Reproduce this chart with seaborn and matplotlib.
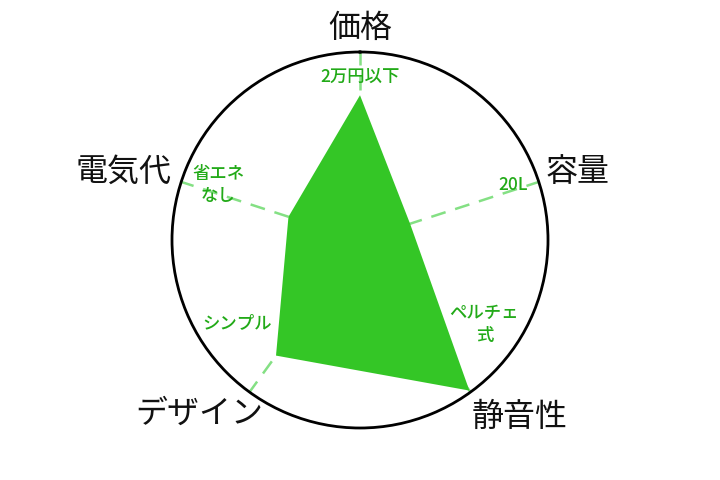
import numpy as np
import pandas as pd
import matplotlib
matplotlib.use('Agg')
import matplotlib.pyplot as plt
import seaborn as sns

# data
categories = ['価格', '容量', '静音性', 'デザイン', '電気代']
values = [77, 28, 99, 76, 40]
notes = ['2万円以下', '20L', 'ペルチェ\n式', 'シンプル', '省エネ\nなし']
max_value = 100

sns.set_theme(style='white')
plt.rcParams['font.family'] = ['Noto Sans CJK JP', 'DejaVu Sans']

df = pd.DataFrame({'cat': categories, 'val': values, 'note': notes})
df['theta'] = np.deg2rad(np.arange(len(df)) * 360 / len(df))

fig = plt.figure(figsize=(7.2, 4.8), dpi=100)
ax = fig.add_axes([172 / 720, 52 / 480, 376 / 720, 376 / 480], polar=True)
ax.set_theta_offset(np.pi / 2)
ax.set_theta_direction(-1)
ax.set_ylim(0, max_value)

# dashed spokes
for t in df['theta']:
    ax.plot([t, t], [0, max_value], color='#84e084', lw=1.8, ls=(0, (6, 4)), zorder=1)

# polygon
th = np.append(df['theta'].values, df['theta'].values[0])
vv = np.append(df['val'].values, df['val'].values[0])
ax.fill(th, vv, color='#34c626', lw=0, zorder=2)

ax.set_xticks([])
ax.set_yticks([])
ax.grid(False)
ax.spines['polar'].set_color('black')
ax.spines['polar'].set_linewidth(2)

# label layout (angle in degrees clockwise from top, radius as fraction)
cat_pos = [(0, 1.13), (72.7, 1.21), (137.9, 1.27), (222.8, 1.26), (286.1, 1.31)]
note_pos = [(0, 0.87), (70.2, 0.865), (124.2, 0.80), (236, 0.79), (291.2, 0.81)]

for (a, r), name in zip(cat_pos, df['cat']):
    ax.text(np.deg2rad(a), r * max_value, name, ha='center', va='center',
            fontsize=23, color='#111111', clip_on=False)
for (a, r), note in zip(note_pos, df['note']):
    ax.text(np.deg2rad(a), r * max_value, note, ha='center', va='center',
            fontsize=12.5, color='#22aa18', fontweight='medium',
            linespacing=1.3, zorder=3)

fig.savefig('out.png', dpi=100)
